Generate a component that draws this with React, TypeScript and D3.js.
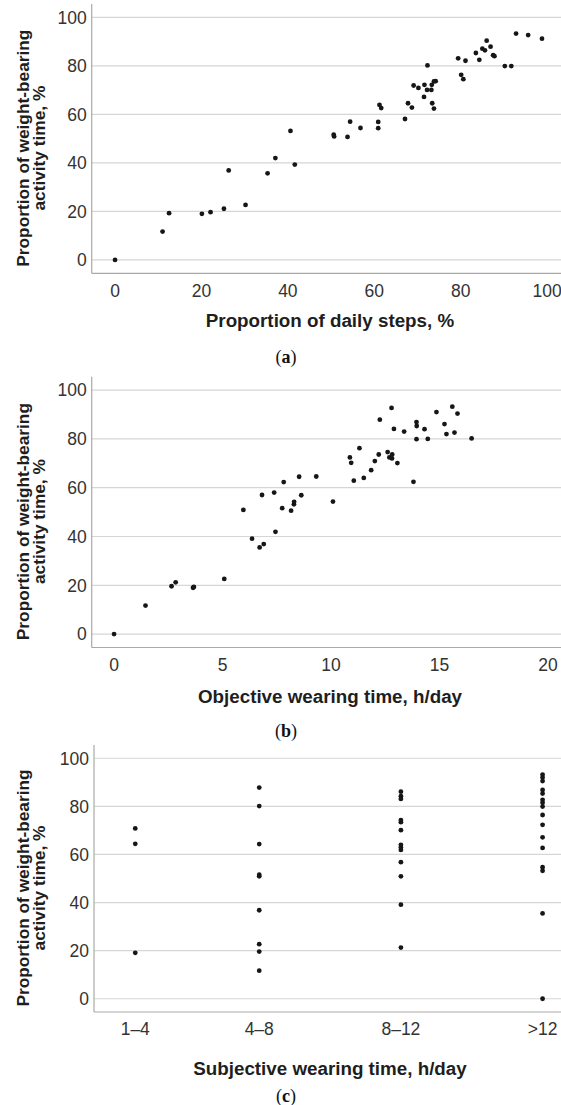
import React from 'react';
import * as d3 from 'd3';

// ---------- data ----------
const yTicks = [0, 20, 40, 60, 80, 100];
const stepsTicks = [0, 20, 40, 60, 80, 100];
const wearTicks = [0, 5, 10, 15, 20];
const subjCategories = ['1–4', '4–8', '8–12', '>12'];
const subjMidpoints = [2.5, 6, 10, 14];

// (a) proportion of daily steps (%) vs weight-bearing activity time (%)
const stepsPoints: [number, number][] = [
  [0, 0], [11.0, 11.7], [12.5, 19.3], [20.1, 19.0], [22.1, 19.7], [25.2, 21.1], [26.3, 36.9],
  [30.2, 22.7], [35.3, 35.7], [37.1, 42.0], [40.6, 53.2], [41.6, 39.3],
  [50.6, 51.6], [50.7, 50.9], [53.8, 50.7], [54.4, 57.0], [56.8, 54.4], [60.9, 56.9], [60.9, 54.3],
  [61.2, 63.9], [61.6, 62.6], [67.1, 58.1], [67.8, 64.6], [68.7, 62.8], [69.1, 71.9], [70.2, 70.9],
  [71.5, 67.2], [71.6, 72.2], [72.2, 70.1], [72.3, 80.2], [73.2, 70.1], [73.3, 72.2], [73.4, 64.6],
  [73.8, 73.6], [74.2, 73.7], [73.8, 62.4], [79.4, 83.1], [80.1, 76.3], [80.6, 74.5], [81.1, 82.1],
  [83.5, 85.3], [84.3, 82.5], [85.0, 87.1], [85.6, 86.4], [86.0, 90.4], [86.9, 87.9], [87.5, 84.4],
  [87.8, 84.0], [90.2, 79.9], [91.7, 79.9], [92.8, 93.3], [95.6, 92.7], [98.8, 91.2],
];

// (b) objective wearing time (h/day) vs weight-bearing activity time (%)
const wearPoints: [number, number][] = [
  [0, 0], [1.45, 11.7], [2.65, 19.6], [2.84, 21.2], [3.64, 19.0], [3.68, 19.3], [5.08, 22.6],
  [5.96, 50.9], [6.36, 39.1], [6.71, 35.5], [6.9, 36.9], [6.82, 57.0], [7.38, 58.0], [7.44, 41.9],
  [7.75, 51.6], [7.82, 62.3], [8.16, 50.6], [8.29, 53.2], [8.3, 54.2], [8.53, 64.5], [8.63, 56.9],
  [9.32, 64.6], [10.09, 54.3], [10.87, 72.4], [10.93, 70.2], [11.05, 62.9], [11.31, 76.2],
  [11.51, 64.0], [11.85, 67.2], [12.02, 70.9], [12.2, 73.6], [12.25, 87.9], [12.61, 74.6],
  [12.69, 72.4], [12.79, 92.7], [12.82, 73.6], [12.81, 72.0], [12.9, 84.1], [13.06, 70.1],
  [13.37, 83.0], [13.8, 62.4], [13.94, 86.9], [13.95, 85.3], [13.94, 79.9], [14.31, 84.0],
  [14.46, 80.0], [14.86, 91.0], [15.23, 86.1], [15.32, 82.0], [15.59, 93.2], [15.69, 82.6],
  [15.83, 90.4], [16.48, 80.2],
];

// (c) subjective wearing time category vs weight-bearing activity time (%)
const subj1to4 = [70.8, 64.4, 19.1];
const subj4to8 = [87.8, 80.1, 64.3, 51.6, 50.9, 36.8, 22.7, 19.6, 11.7];
const subj8to12 = [86.1, 84.2, 83.1, 74.3, 73.4, 70.1, 64.0, 62.9, 61.9, 56.8, 50.9, 39.1, 21.3];
const subjOver12 = [93.2, 92.0, 90.5, 86.8, 85.3, 82.7, 81.5, 79.9, 76.4, 72.3, 67.1, 62.7, 54.7, 53.2, 35.5, 0];
const subjGroups = [subj1to4, subj4to8, subj8to12, subjOver12];

const subjPoints: [number, number][] = subjGroups.flatMap((g, i) =>
  g.map((v) => [subjMidpoints[i], v] as [number, number])
);

const yTitleLines = ['Proportion of weight-bearing', 'activity time, %'];

// ---------- styling ----------
const W = 561;
const H = 1105;
const SANS = '"Liberation Sans", Arial, Helvetica, sans-serif';
const SERIF = '"Liberation Serif", "Times New Roman", serif';
const GRID = '#d6d6d6';
const AXIS = '#a9a9a9';
const TICK_TXT = '#333333';
const TITLE_TXT = '#1e1e1e';

interface PanelProps {
  top: number;
  bottom: number;
  left: number;
  xDomain: [number, number];
  xTickValues: number[];
  xTickLabels: string[];
  points: [number, number][];
  xTitle: string;
  label: string;
  titleDy: number;
}

function Panel({ top, bottom, left, xDomain, xTickValues, xTickLabels, points, xTitle, label, titleDy }: PanelProps) {
  const x = d3.scaleLinear().domain(xDomain).range([left, W]);
  const y = d3.scaleLinear().domain([-5.5, 105.5]).range([bottom, top]);
  const midY = (top + bottom) / 2 + 9.5;
  return (
    <g>
      {yTicks.map((t) => (
        <line key={'g' + t} x1={left} x2={W} y1={y(t)} y2={y(t)} stroke={GRID} strokeWidth={1.2} />
      ))}
      <line x1={left} x2={left} y1={top} y2={bottom} stroke={AXIS} strokeWidth={1.2} />
      <line x1={left} x2={W} y1={bottom} y2={bottom} stroke={AXIS} strokeWidth={1.2} />
      {yTicks.map((t) => (
        <text key={'yl' + t} x={left - 5} y={y(t)} dy="0.36em" textAnchor="end"
          fontFamily={SANS} fontSize={17.5} fill={TICK_TXT}>{t}</text>
      ))}
      {xTickValues.map((t, i) => (
        <text key={'xl' + i} x={x(t)} y={bottom + 17} dy="0.36em" textAnchor="middle"
          fontFamily={SANS} fontSize={17.5} fill={TICK_TXT}>{xTickLabels[i]}</text>
      ))}
      {points.map((p, i) => (
        <circle key={'p' + i} cx={x(p[0])} cy={y(p[1])} r={2.4} fill="#161616" />
      ))}
      <text transform={`translate(29,${midY}) rotate(-90)`} textAnchor="middle"
        fontFamily={SANS} fontSize={17.3} fontWeight="bold" fill={TITLE_TXT}>
        <tspan x={0} dy={0}>{yTitleLines[0]}</tspan>
        <tspan x={0} dy={16}>{yTitleLines[1]}</tspan>
      </text>
      <text x={330} y={bottom + titleDy} dy="0.36em" textAnchor="middle"
        fontFamily={SANS} fontSize={18.8} fontWeight="bold" fill={TITLE_TXT}>{xTitle}</text>
      <text x={286} y={bottom + 84} dy="0.32em" textAnchor="middle"
        fontFamily={SERIF} fontSize={18} fill="#111">
        (<tspan fontWeight="bold">{label}</tspan>)
      </text>
    </g>
  );
}

export default function App() {
  return (
    <svg width={W} height={H} viewBox={`0 0 ${W} ${H}`}
      style={{ position: 'absolute', left: 0, top: 0, background: '#fff' }}>
      <rect x={0} y={0} width={W} height={H} fill="#fff" />
      <Panel top={4} bottom={273.3} left={91.7} xDomain={[-5.4, 103.2]}
        xTickValues={stepsTicks} xTickLabels={stepsTicks.map(String)}
        points={stepsPoints} xTitle="Proportion of daily steps, %" label="a" titleDy={47} />
      <Panel top={376.7} bottom={647.5} left={91.7} xDomain={[-1.03, 20.6]}
        xTickValues={wearTicks} xTickLabels={wearTicks.map(String)}
        points={wearPoints} xTitle="Objective wearing time, h/day" label="b" titleDy={49} />
      <Panel top={745} bottom={1012} left={94} xDomain={[1.335, 14.52]}
        xTickValues={subjMidpoints} xTickLabels={subjCategories}
        points={subjPoints} xTitle="Subjective wearing time, h/day" label="c" titleDy={56} />
    </svg>
  );
}
